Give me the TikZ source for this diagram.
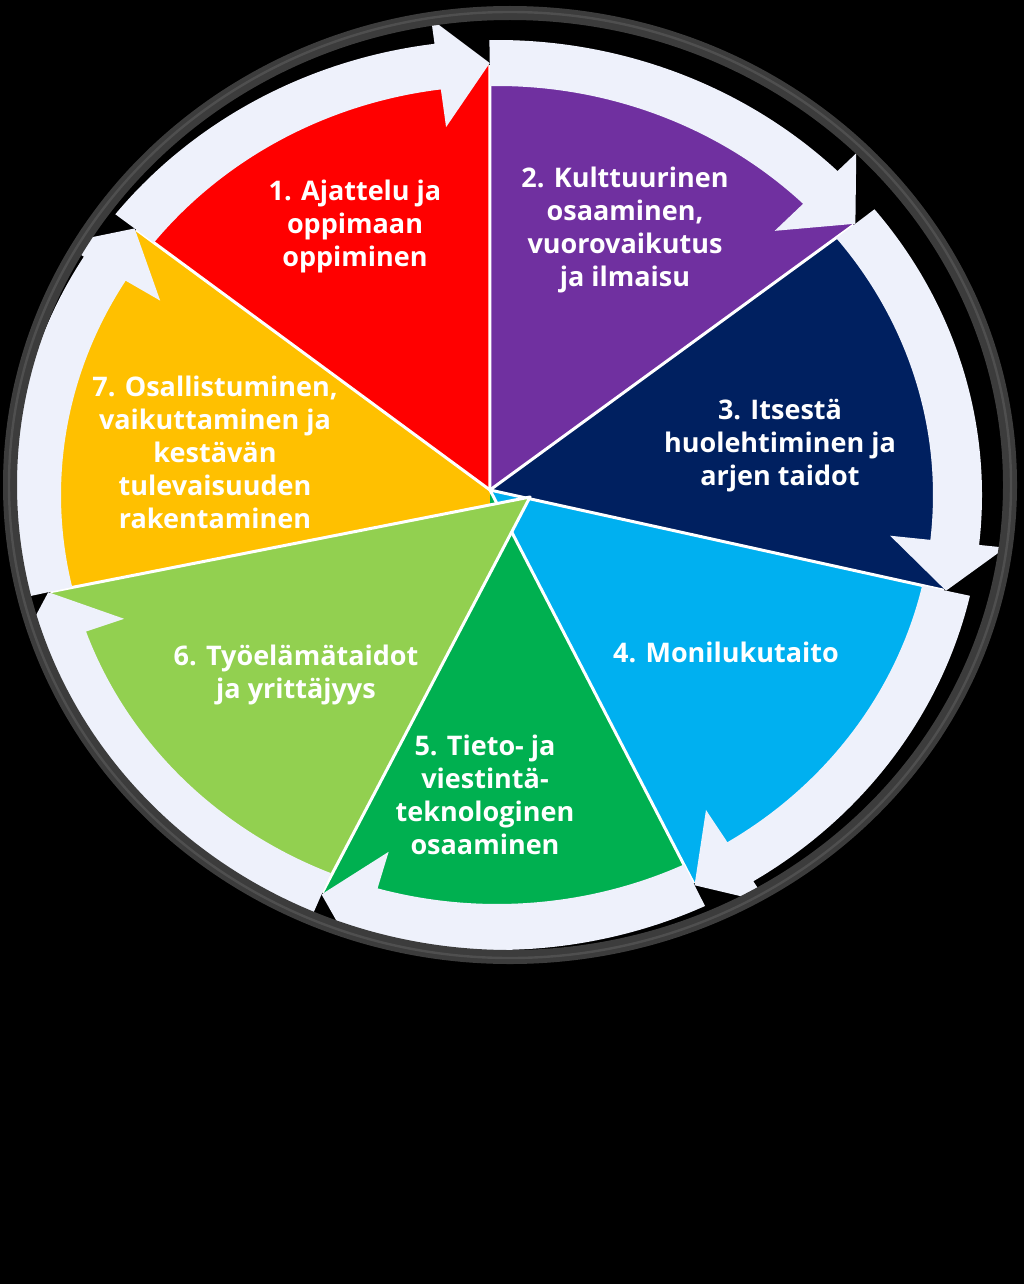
\documentclass[tikz,border=0pt]{standalone}
\usepackage{fontspec}
\setmainfont{Open Sans}
\definecolor{cRed}{HTML}{FF0000}
\definecolor{cPurple}{HTML}{7030A0}
\definecolor{cNavy}{HTML}{002060}
\definecolor{cBlue}{HTML}{00B0F0}
\definecolor{cDkGreen}{HTML}{00B050}
\definecolor{cLtGreen}{HTML}{92D050}
\definecolor{cYellow}{HTML}{FFC000}
\definecolor{cBand}{HTML}{EEF1FB}
\definecolor{cRing}{HTML}{3C3C3C}
\newcommand\cycarrow[2]{%
  \pgfmathsetmacro\bk{#2+6.5}%
  \fill[bandfill] (#1:455) arc[start angle=#1,end angle=\bk,radius=455]
    -- (\bk:480) -- (#2:432) -- (\bk:371) -- (\bk:409)
    arc[start angle=\bk,end angle=#1,radius=409] -- cycle;}
\begin{document}
\begin{tikzpicture}[x=0.5pt,y=0.5pt,
  sep/.style={draw=white,line width=1.5pt,line join=round},
  bandfill/.style={fill=cBand},
  lbl/.style={text=white,font=\fontsize{13.5}{16.5}\selectfont\bfseries,align=center,inner sep=0pt}]
\fill[black] (0,0) rectangle (1024,-1284);
\useasboundingbox (0,0) rectangle (1024,-1284);
\begin{scope}[shift={(497,-495)},xscale=1.066]
  \coordinate (A) at (-6.6,5);
  \coordinate (L) at (31,-2);
  \coordinate (Q) at (-6.6,-10);
  \def\R{430}
  % wedges
  \fill[cRed] (A) -- (141.9:\R) arc[start angle=141.9,end angle=90.9,radius=\R] -- cycle;
  \fill[cPurple] (A) -- (90.9:\R) arc[start angle=90.9,end angle=38.9,radius=\R] -- cycle;
  \fill[cNavy] (A) -- (38.9:\R) arc[start angle=38.9,end angle=-12.8,radius=\R] -- cycle;
  \fill[cBlue] (A) -- (-12.8:\R) arc[start angle=-12.8,end angle=-64.6,radius=\R] -- cycle;
  \fill[cDkGreen] (A) -- (-64.6:\R) arc[start angle=-64.6,end angle=-112.4,radius=\R] -- cycle;
  \fill[cYellow] (A) -- (141.9:\R) arc[start angle=141.9,end angle=205,radius=\R] -- (Q) -- cycle;
  % separators
  \draw[sep] (A) -- (90.9:\R);
  \draw[sep] (A) -- (38.9:\R);
  \draw[sep] (A) -- (-12.8:\R);
  \draw[sep] (A) -- (-64.6:\R);
  \draw[sep] (A) -- (141.9:\R);
  % light green wedge (offset)
  \fill[cLtGreen] (L) -- (247.6:\R) arc[start angle=247.6,end angle=193,radius=\R] -- cycle;
  \draw[sep] (193:\R) -- (L) -- (247.6:\R);
\end{scope}
% circular arrows, kept inside the ring
\begin{scope}
  \clip (510,-485) ellipse [x radius=502,y radius=474];
  \begin{scope}[shift={(497,-495)},xscale=1.066]
    \cycarrow{141.9}{90.9}
    \cycarrow{90.9}{38.9}
    \cycarrow{38.9}{-12.8}
    \cycarrow{-12.8}{-64.6}
    \cycarrow{-64.6}{-112.4}
    \cycarrow{-112.4}{-167}
    \cycarrow{193}{141.9}
  \end{scope}
\end{scope}
% outer ring
\draw[cRing,line width=7pt] (510,-485) ellipse [x radius=500,y radius=472];
\draw[black!55!white,line width=1.2pt,opacity=0.35] (510,-485) ellipse [x radius=501,y radius=473];
% labels
\node[lbl] (t1) at (355,-226) {1. Ajattelu ja\\oppimaan\\oppiminen};
\node[lbl] (t2) at (625,-230) {2. Kulttuurinen\\osaaminen,\\vuorovaikutus\\ja ilmaisu};
\node[lbl] (t3) at (780,-446) {3. Itsestä\\huolehtiminen ja\\arjen taidot};
\node[lbl] (t4) at (726,-652) {4. Monilukutaito};
\node[lbl] (t5) at (485,-795) {5. Tieto- ja\\viestintä-\\teknologinen\\osaaminen};
\node[lbl] (t6) at (296,-675) {6. Työelämätaidot\\ja yrittäjyys};
\node[lbl] (t7) at (215,-452) {7. Osallistuminen,\\vaikuttaminen ja\\kestävän\\tulevaisuuden\\rakentaminen};
\end{tikzpicture}
\end{document}
